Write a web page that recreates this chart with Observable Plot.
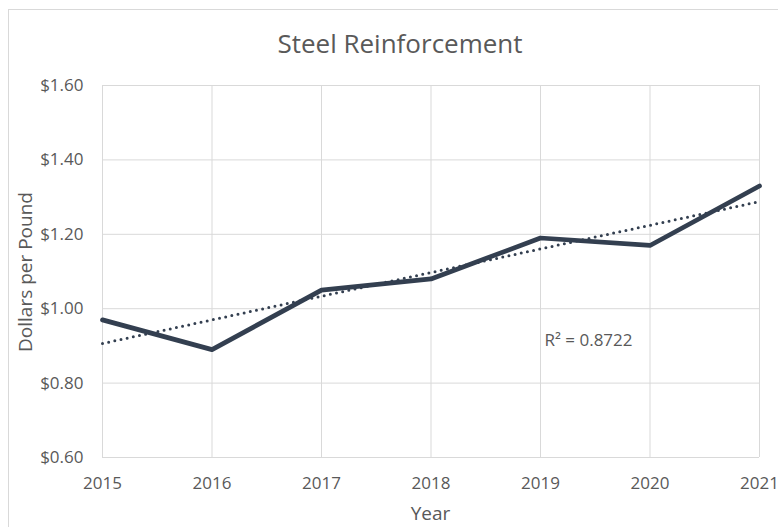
<!DOCTYPE html>
<html>
<head>
<meta charset="utf-8">
<script src="https://cdn.jsdelivr.net/npm/d3@7"></script>
<script src="https://cdn.jsdelivr.net/npm/@observablehq/plot@0.6"></script>
<style>
  html, body { margin: 0; padding: 0; background: #fff; overflow: hidden; }
  #wrap { position: relative; width: 778px; height: 527px; font-family: "Open Sans", sans-serif; color: #595959; }
  #border { position: absolute; left: 8px; top: 9px; width: 900px; height: 700px; border: 1px solid #d9d9d9; box-sizing: border-box; }
  #chart { position: absolute; left: 0; top: 0; }
  .lbl { position: absolute; white-space: nowrap; color: #595959; line-height: normal; }
  #title { left: 0; width: 800px; top: 25px; text-align: center; font-size: 26px; }
  #xlabel { left: 0; width: 861px; top: 500px; text-align: center; font-size: 19px; }
  #ylabel { left: 25px; top: 272px; font-size: 19px; transform: translate(-50%, -50%) rotate(-90deg); }
</style>
</head>
<body>
<div id="wrap">
  <div id="border"></div>
  <div id="chart"></div>
  <div class="lbl" id="title">Steel Reinforcement</div>
  <div class="lbl" id="xlabel">Year</div>
  <div class="lbl" id="ylabel">Dollars per Pound</div>
</div>
<script>
const years = [2015, 2016, 2017, 2018, 2019, 2020, 2021];
const prices = [0.97, 0.89, 1.05, 1.08, 1.19, 1.17, 1.33];
const yTicks = [0.6, 0.8, 1.0, 1.2, 1.4, 1.6];
const rSquaredLabel = "R² = 0.8722";
const rLabelPos = {year: 2019, price: 0.915};

const data = years.map((y, i) => ({year: y, price: prices[i]}));

const chart = Plot.plot({
  width: 778,
  height: 527,
  marginLeft: 102,
  marginRight: 19,
  marginTop: 85,
  marginBottom: 70,
  style: {fontFamily: "Open Sans, sans-serif", fontSize: "17px", color: "#595959", background: "transparent", overflow: "visible"},
  x: {domain: [2015, 2021], ticks: years, tickFormat: "d", tickSize: 0, tickPadding: 19, label: null},
  y: {domain: [0.6, 1.6], ticks: yTicks, tickFormat: d => "$" + d.toFixed(2), tickSize: 0, tickPadding: 19, label: null},
  marks: [
    Plot.gridX(years, {stroke: "#d9d9d9", strokeOpacity: 1, strokeWidth: 1}),
    Plot.gridY(yTicks, {stroke: "#d9d9d9", strokeOpacity: 1, strokeWidth: 1}),
    Plot.linearRegressionY(data, {x: "year", y: "price", ci: 0, stroke: "#333f50", strokeWidth: 3, strokeDasharray: "0,6.3", strokeLinecap: "round"}),
    Plot.line(data, {x: "year", y: "price", stroke: "#333f50", strokeWidth: 4.7, strokeLinejoin: "round"}),
    Plot.text([rSquaredLabel], {x: () => rLabelPos.year, y: () => rLabelPos.price, text: d => d, textAnchor: "start", dx: 4, fill: "#595959", fontSize: 17})
  ]
});
document.getElementById("chart").appendChild(chart);
</script>
</body>
</html>
